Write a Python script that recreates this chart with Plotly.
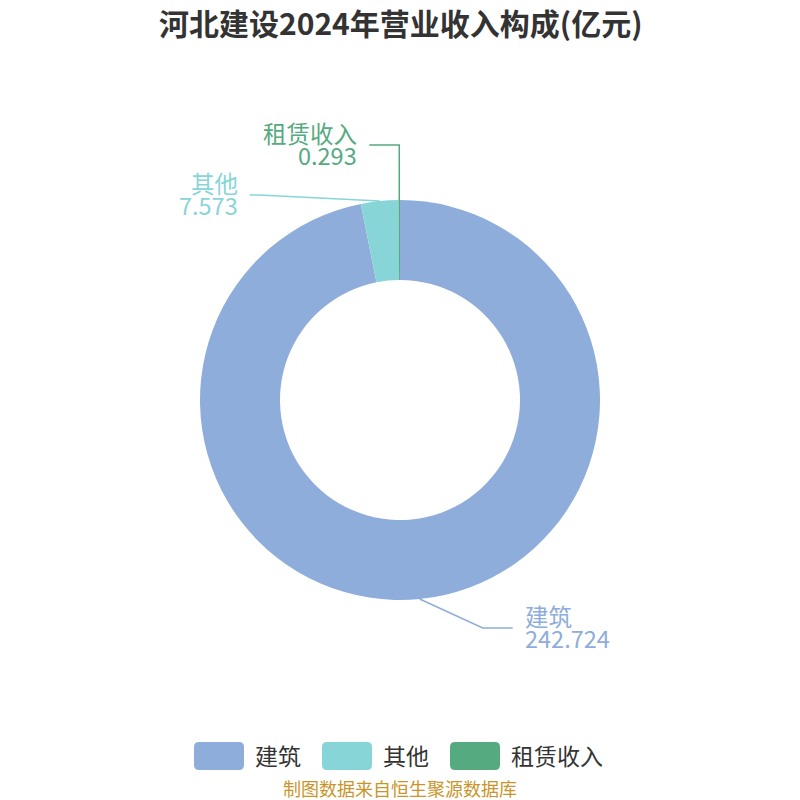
import numpy as np
import plotly.graph_objects as go

title = "河北建设2024年营业收入构成(亿元)"
categories = ["建筑", "其他", "租赁收入"]
values = [242.724, 7.573, 0.293]
value_labels = ["242.724", "7.573", "0.293"]
colors = ["#8eaddb", "#88d5d8", "#56aa7f"]
source = "制图数据来自恒生聚源数据库"

W = H = 800
CX, CY, R = 400, 400, 200
FONT = "Noto Sans CJK SC, Noto Sans, sans-serif"

fig = go.Figure()
fig.add_trace(go.Pie(
    labels=categories, values=values, hole=0.6, sort=False,
    direction="clockwise", rotation=0,
    marker=dict(colors=colors, line=dict(width=0)),
    textinfo="none", hoverinfo="none", showlegend=False,
    domain=dict(x=[(CX - R) / W, (CX + R) / W], y=[1 - (CY + R) / H, 1 - (CY - R) / H]),
))

def px(x):
    return x / W

def py(y):
    return 1 - y / H

# label layout: elbow point (pixel offset from slice edge point), horizontal length, side
label_layout = [
    dict(elbow=(63, 29), hlen=30, side="right"),
    dict(elbow=(-120, -6), hlen=10, side="left"),
    dict(elbow=(0, -55), hlen=30, side="left"),
]

vals = np.array(values, dtype=float)
cum = np.cumsum(vals) / vals.sum()
starts = np.concatenate([[0], cum[:-1]])
mids = (starts + cum) / 2 * 2 * np.pi

shapes = []
annotations = []
for i, cat in enumerate(categories):
    a = mids[i]
    x0 = CX + R * np.sin(a)
    y0 = CY - R * np.cos(a)
    lay = label_layout[i]
    x1 = x0 + lay["elbow"][0]
    y1 = y0 + lay["elbow"][1]
    sgn = 1 if lay["side"] == "right" else -1
    x2 = x1 + sgn * lay["hlen"]
    shapes.append(dict(
        type="path", xref="paper", yref="paper",
        path=f"M {px(x0)},{py(y0)} L {px(x1)},{py(y1)} L {px(x2)},{py(y1)}",
        line=dict(color=colors[i], width=1.5),
    ))
    for txt, dy in ((cat, -12), (value_labels[i], 10)):
        annotations.append(dict(
            x=px(x2 + sgn * 10), y=py(y1 + dy), xref="paper", yref="paper",
            text=txt, showarrow=False,
            xanchor="left" if sgn > 0 else "right", yanchor="middle",
            font=dict(family=FONT, size=23.5, color=colors[i]),
        ))

# custom legend
legend_x = [194, 322, 450]
for i, cat in enumerate(categories):
    x0, x1, y0, y1 = legend_x[i], legend_x[i] + 50, 742, 770
    r = 5
    path = (f"M {px(x0 + r)},{py(y0)} L {px(x1 - r)},{py(y0)} Q {px(x1)},{py(y0)} {px(x1)},{py(y0 + r)} "
            f"L {px(x1)},{py(y1 - r)} Q {px(x1)},{py(y1)} {px(x1 - r)},{py(y1)} "
            f"L {px(x0 + r)},{py(y1)} Q {px(x0)},{py(y1)} {px(x0)},{py(y1 - r)} "
            f"L {px(x0)},{py(y0 + r)} Q {px(x0)},{py(y0)} {px(x0 + r)},{py(y0)} Z")
    shapes.append(dict(type="path", xref="paper", yref="paper", path=path,
                       fillcolor=colors[i], line=dict(width=0)))
    annotations.append(dict(
        x=px(x1 + 9), y=py(755), xref="paper", yref="paper", text=cat,
        showarrow=False, xanchor="left", yanchor="middle",
        font=dict(family=FONT, size=23, color="#333333"),
    ))

annotations.append(dict(
    x=0.5, y=py(22), xref="paper", yref="paper", text=f"<b>{title}</b>",
    showarrow=False, xanchor="center", yanchor="middle",
    font=dict(family=FONT, size=30, color="#333333"),
))
annotations.append(dict(
    x=0.5, y=py(788), xref="paper", yref="paper", text=source,
    showarrow=False, xanchor="center", yanchor="middle",
    font=dict(family=FONT, size=18, color="#c9952b"),
))

fig.update_layout(
    width=W, height=H, margin=dict(l=0, r=0, t=0, b=0),
    paper_bgcolor="white", plot_bgcolor="white",
    shapes=shapes, annotations=annotations,
)
fig.write_html("out.html", config={"displayModeBar": False},
               post_script="document.body.style.margin='0';")
